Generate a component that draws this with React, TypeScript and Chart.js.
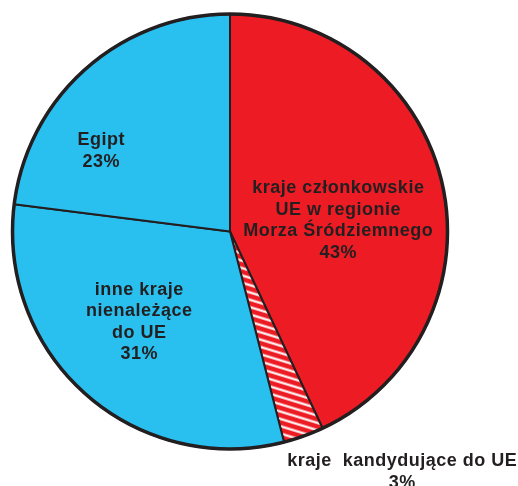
import React, { useEffect, useRef } from "react";
import { Chart, registerables } from "chart.js";

Chart.register(...registerables);

const categories = [
  "kraje członkowskie UE w regionie Morza Śródziemnego",
  "kraje kandydujące do UE",
  "inne kraje nienależące do UE",
  "Egipt",
];
const shares = [43, 3, 31, 23];
const labelLines = [
  ["kraje członkowskie", "UE w regionie", "Morza Śródziemnego", "43%"],
  ["kraje  kandydujące do UE", "3%"],
  ["inne kraje", "nienależące", "do UE", "31%"],
  ["Egipt", "23%"],
];
// label block centre, as fraction of the pie radius from the pie centre
const labelAnchors = [
  [0.497, -0.056],
  [0.791, 1.099],
  [-0.418, 0.41],
  [-0.593, -0.375],
];

const RED = "#ED1C24";
const BLUE = "#29BFEF";
const DARK = "#231F20";

function makeHatch(ctx: CanvasRenderingContext2D): CanvasPattern | string {
  const tile = document.createElement("canvas");
  tile.width = 12;
  tile.height = 7;
  const t = tile.getContext("2d")!;
  t.fillStyle = RED;
  t.fillRect(0, 0, 12, 7);
  t.fillStyle = "#FFFFFF";
  t.fillRect(0, 2.5, 12, 2.2);
  const p = ctx.createPattern(tile, "repeat");
  if (!p) return RED;
  try {
    p.setTransform(new DOMMatrix().rotateSelf(17));
  } catch (e) {}
  return p;
}

const labelPlugin = {
  id: "sliceLabels",
  afterDatasetsDraw(chart: any) {
    const ctx = chart.ctx as CanvasRenderingContext2D;
    const meta = chart.getDatasetMeta(0);
    const arc = meta.data[0];
    if (!arc) return;
    const cx = arc.x;
    const cy = arc.y;
    const R = arc.outerRadius;
    // thicker outer rim
    ctx.save();
    ctx.beginPath();
    ctx.arc(cx, cy, R, 0, Math.PI * 2);
    ctx.lineWidth = 3.5;
    ctx.strokeStyle = DARK;
    ctx.stroke();
    ctx.restore();

    ctx.save();
    ctx.font = "bold 18px 'Liberation Sans', Arial, sans-serif";
    (ctx as any).letterSpacing = "0.5px";
    ctx.fillStyle = DARK;
    ctx.textAlign = "center";
    ctx.textBaseline = "alphabetic";
    const lh = 21.5;
    labelLines.forEach((lines, i) => {
      const [fx, fy] = labelAnchors[i];
      const x = cx + fx * R;
      const yc = cy + fy * R;
      const y0 = yc - ((lines.length - 1) * lh) / 2;
      lines.forEach((ln, j) => {
        ctx.fillText(ln, x + 0.25, y0 + j * lh + 6.3);
      });
    });
    ctx.restore();
  },
};

export default function App() {
  const ref = useRef<HTMLCanvasElement | null>(null);
  useEffect(() => {
    const canvas = ref.current!;
    const ctx = canvas.getContext("2d")!;
    const hatch = makeHatch(ctx);
    const chart = new Chart(canvas, {
      type: "pie",
      data: {
        labels: categories,
        datasets: [
          {
            data: shares,
            backgroundColor: [RED, hatch as any, BLUE, BLUE],
            borderColor: DARK,
            borderWidth: 2,
          },
        ],
      },
      options: {
        responsive: false,
        animation: false,
        layout: { padding: { left: 11.5, top: 13, right: 69.5, bottom: 36 } },
        plugins: {
          legend: { display: false },
          tooltip: { enabled: false },
        },
      },
      plugins: [labelPlugin],
    });
    return () => chart.destroy();
  }, []);
  return (
    <div style={{ position: "fixed", left: 0, top: 0, width: 518, height: 486, background: "#fff" }}>
      <canvas ref={ref} width={518} height={486} style={{ display: "block" }} />
    </div>
  );
}
